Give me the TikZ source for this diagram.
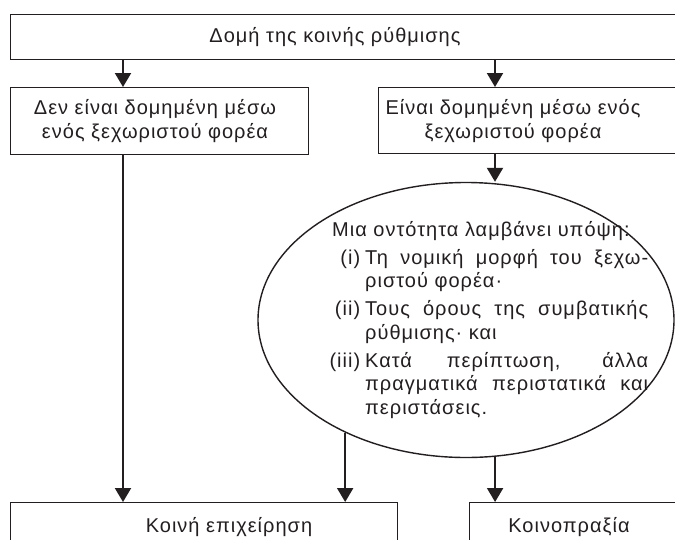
\documentclass[tikz,border=0pt]{standalone}
\usepackage{fontspec}
\setmainfont{Liberation Sans}[LetterSpace=5]
\usetikzlibrary{arrows.meta,shapes.geometric}
\definecolor{ink}{HTML}{231F20}
\begin{document}
\begin{tikzpicture}[x=1pt,y=-1pt,
  box/.style={draw=ink,line width=1.4pt,rectangle,inner sep=0pt,anchor=north west},
  lbl/.style={font=\fontsize{20}{24}\selectfont,align=center,inner sep=0pt,text=ink},
  arr/.style={draw=ink,line width=2pt,-{Triangle[width=16pt,length=14pt]}},
]
\useasboundingbox[fill=white] (0,0) rectangle (675,539);
% boxes
\node[box,minimum width=690pt,minimum height=45pt] (top) at (10,14) {};
\node[box,minimum width=298pt,minimum height=67pt] (lb) at (10,87) {};
\node[box,minimum width=320pt,minimum height=66pt] (rb) at (378,87) {};
\node[box,minimum width=387pt,minimum height=60pt] (jv) at (10,502) {};
\node[box,minimum width=230pt,minimum height=60pt] (jo) at (469,502) {};
\node[draw=ink,line width=1.4pt,ellipse,minimum width=416pt,minimum height=275pt,inner sep=0pt] (ell) at (466,320) {};
% texts
\node[lbl] (toptext) at (335,37) {Δομή της κοινής ρύθμισης};
\node[lbl] (lbtext) at (155,121) {Δεν είναι δομημένη μέσω\\ενός ξεχωριστού φορέα};
\node[lbl] (rbtext) at (513,121) {Είναι δομημένη μέσω ενός\\ξεχωριστού φορέα};
\node[lbl] (jvtext) at (229,527) {Κοινή επιχείρηση};
\node[lbl] (jotext) at (569,527) {Κοινοπραξία};
\node[anchor=north west,inner sep=0pt,text width=316pt,align=justify,text=ink,
      font=\fontsize{20}{23.5}\selectfont] (elltext) at (332,221) {%
  \setlength{\parskip}{4.5pt}%
  \noindent Μια οντότητα λαμβάνει υπόψη:\par
  {\leftskip=33pt\noindent\llap{(i)\hspace{5pt}}Τη νομική μορφή του ξεχω-\linebreak ριστού φορέα·\par}
  {\leftskip=33pt\noindent\llap{(ii)\hspace{5pt}}Τους όρους της συμβατικής\linebreak ρύθμισης· και\par}
  {\leftskip=33pt\noindent\llap{(iii)\hspace{5pt}}Κατά περίπτωση, άλλα\linebreak πραγματικά περιστατικά και\linebreak περιστάσεις.\par}%
};
% connectors
\coordinate (xl) at (123,0);
\coordinate (xr) at (495,0);
\draw[arr] (xl |- top.south) -- (xl |- lb.north);
\draw[arr] (xr |- top.south) -- (xr |- rb.north);
\draw[arr] (xr |- rb.south) -- (xr |- ell.north);
\draw[arr] (xl |- lb.south) -- (xl |- jv.north);
\draw[arr] (ell.223.5) -- (ell.223.5 |- jv.north);
\draw[arr] (ell.-78.8) -- (ell.-78.8 |- jo.north);
\end{tikzpicture}
\end{document}
